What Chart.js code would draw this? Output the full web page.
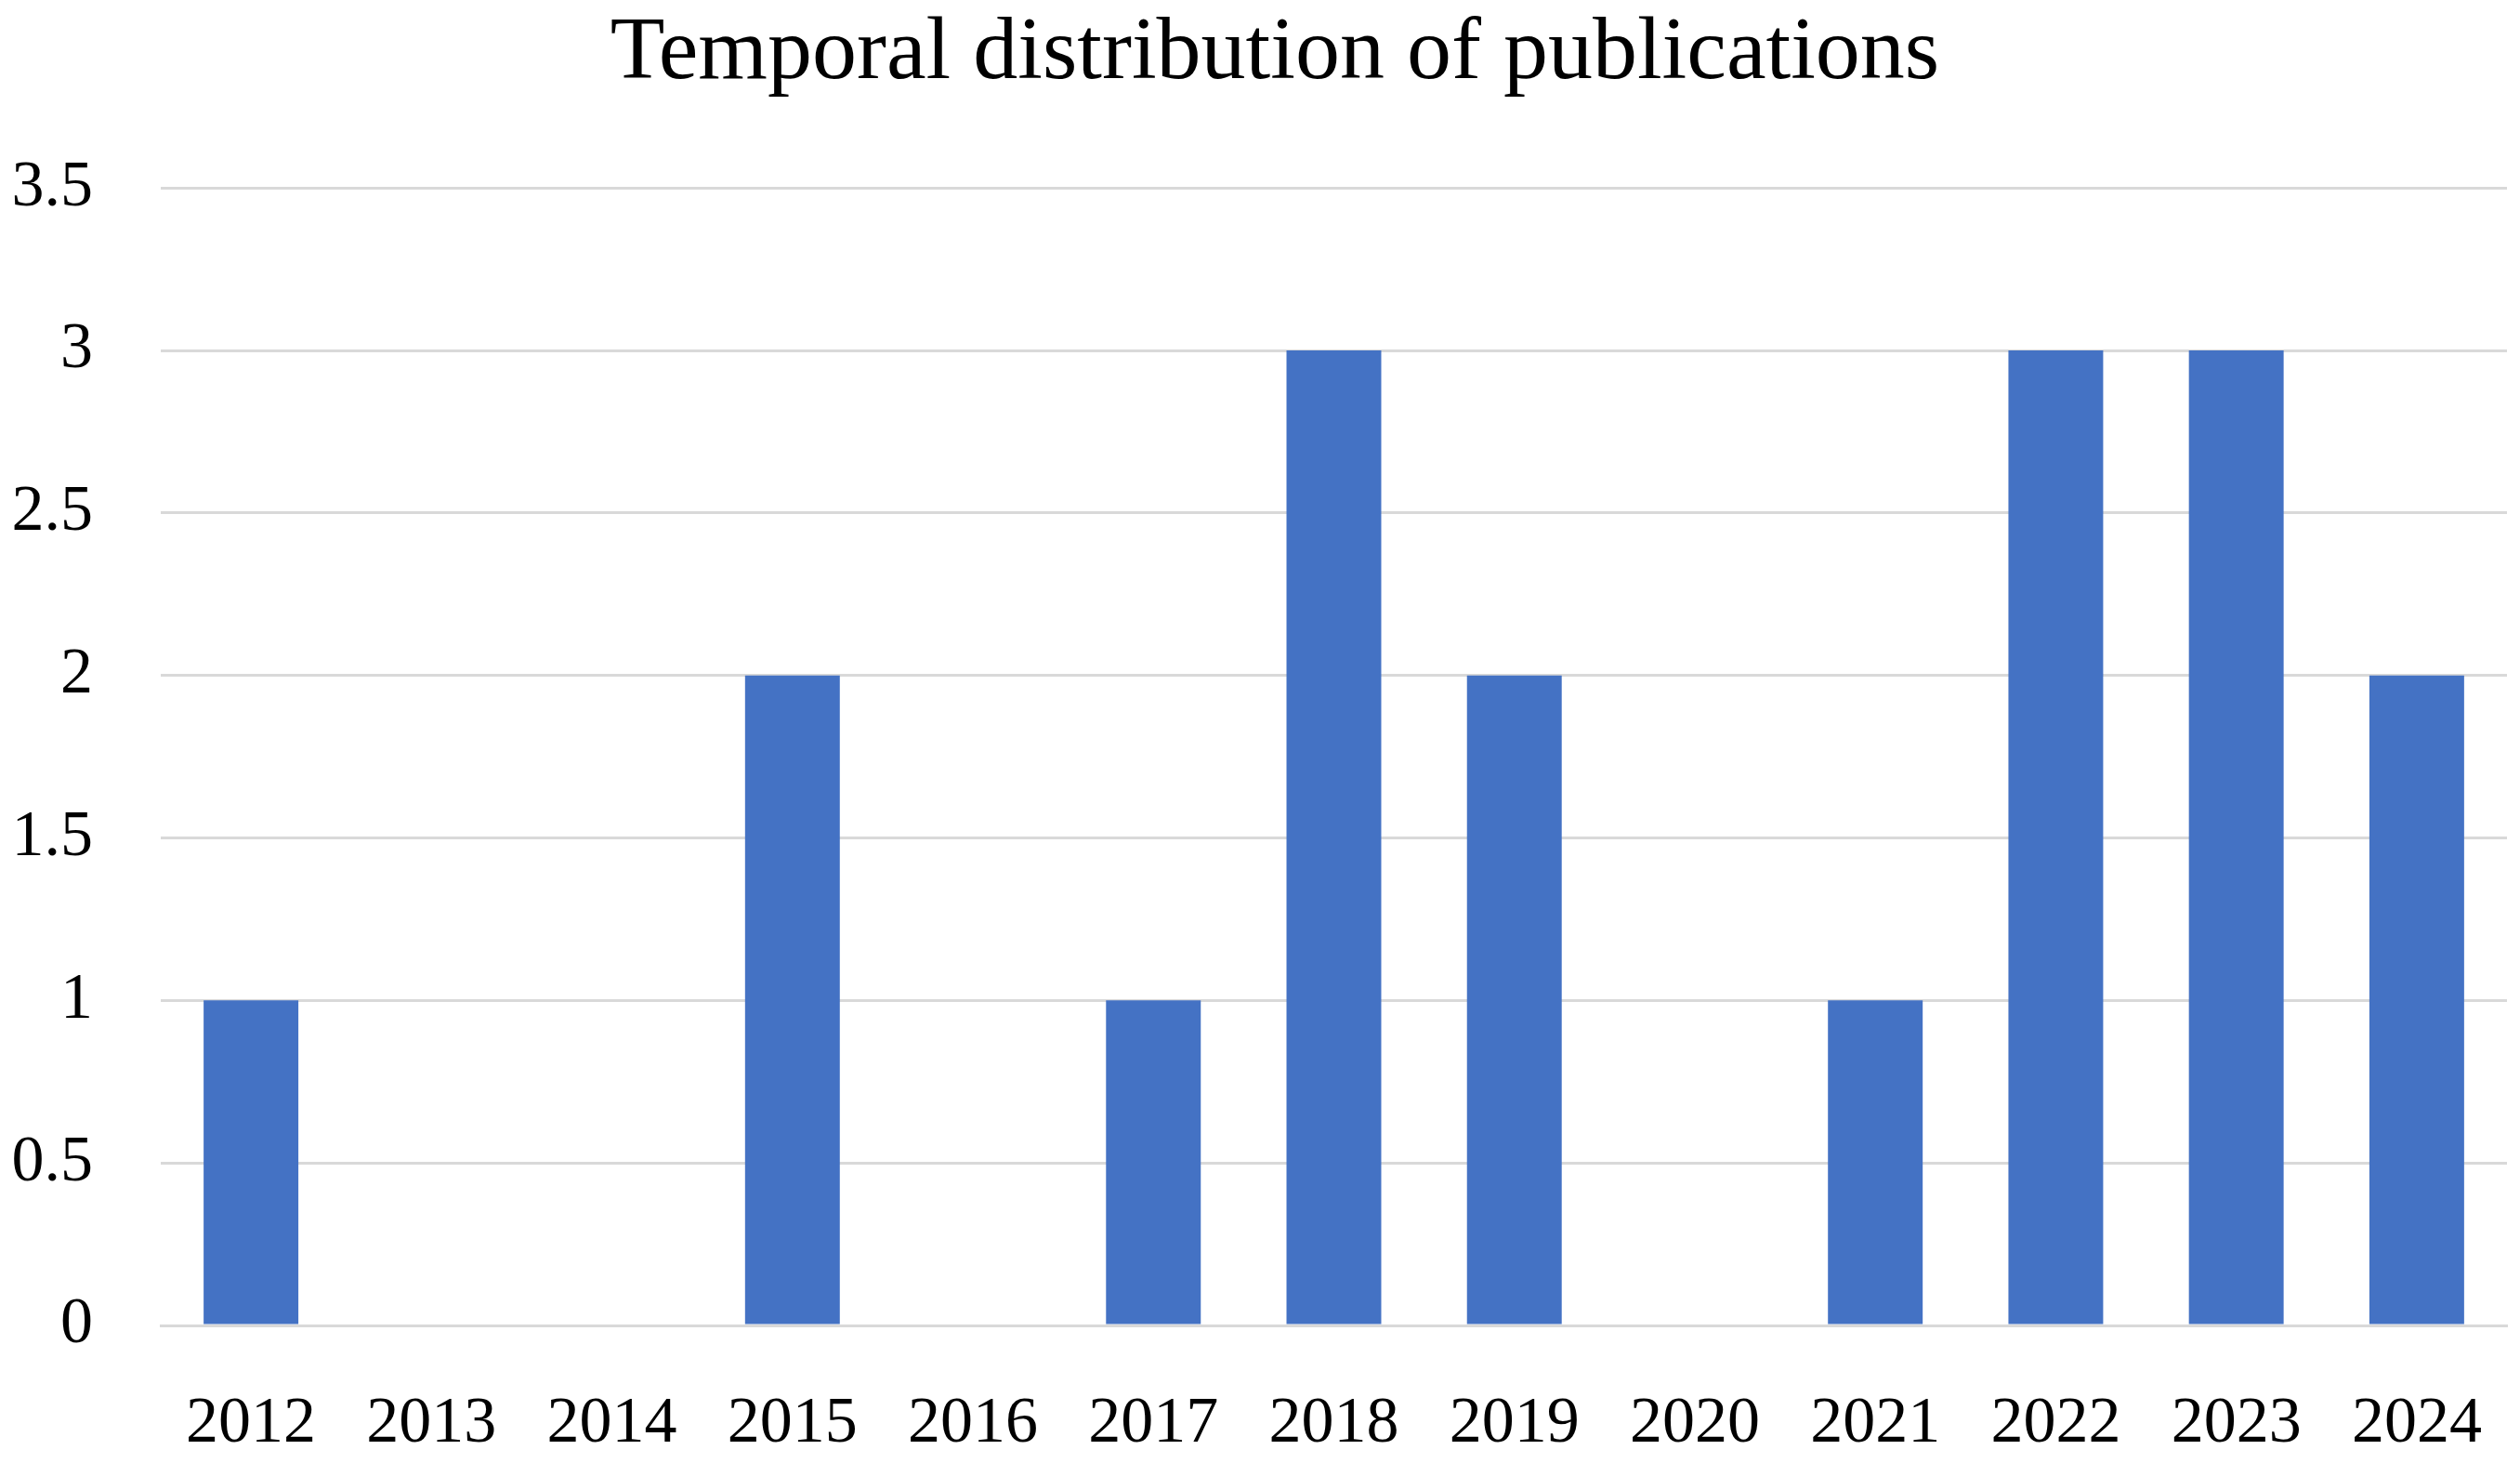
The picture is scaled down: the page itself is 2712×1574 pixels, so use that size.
<!DOCTYPE html>
<html>
<head>
<meta charset="utf-8">
<script src="https://cdn.jsdelivr.net/npm/chart.js@4/dist/chart.umd.min.js"></script>
<style>
html,body{margin:0;padding:0;background:#fff;}
#wrap{width:2712px;height:1574px;}
</style>
</head>
<body>
<div id="wrap"><canvas id="c" width="2712" height="1574"></canvas></div>
<script>
const categories = ["2012","2013","2014","2015","2016","2017","2018","2019","2020","2021","2022","2023","2024"];
const publications = [1,0,0,2,0,1,3,2,0,1,3,3,2];
const yTicks = [0,0.5,1,1.5,2,2.5,3,3.5];
const titleText = "Temporal distribution of publications";

const FONT = "'Liberation Serif', 'DejaVu Serif', serif";

const titleShift = {
  id: 'titleShift',
  afterLayout(chart) {
    if (chart.titleBlock) { chart.titleBlock.left += 46; }
  }
};

new Chart(document.getElementById('c'), {
  type: 'bar',
  data: {
    labels: categories,
    datasets: [{
      label: 'Publications',
      data: publications,
      backgroundColor: '#4472C4',
      borderWidth: 0,
      categoryPercentage: 1.0,
      barPercentage: 0.525
    }]
  },
  plugins: [titleShift],
  options: {
    responsive: false,
    animation: false,
    devicePixelRatio: 1,
    layout: { padding: { left: 0, right: 14, top: 0, bottom: 0 } },
    plugins: {
      legend: { display: false },
      tooltip: { enabled: false },
      title: {
        display: true,
        text: titleText,
        color: '#000',
        font: { family: FONT, size: 96, weight: 'normal' },
        padding: { top: 1, bottom: 86 }
      }
    },
    scales: {
      x: {
        grid: { display: false, drawTicks: false },
        border: { display: true, color: '#d9d9d9', width: 3 },
        ticks: {
          color: '#000',
          font: { family: FONT, size: 70 },
          padding: 65,
          maxRotation: 0,
          autoSkip: false
        },
        afterFit: (s) => { s.height = 148; s.paddingLeft = 0; s.paddingRight = 0; }
      },
      y: {
        min: 0,
        max: 3.5,
        afterBuildTicks: (s) => { s.ticks = yTicks.map(v => ({ value: v })); },
        grid: { color: '#d9d9d9', lineWidth: 3, drawTicks: false },
        border: { display: false },
        ticks: {
          color: '#000',
          font: { family: FONT, size: 70 },
          padding: 73,
          callback: (v) => String(v)
        },
        afterFit: (s) => { s.width = 173; s.paddingTop = 0; s.paddingBottom = 0; }
      }
    }
  }
});
</script>
</body>
</html>
